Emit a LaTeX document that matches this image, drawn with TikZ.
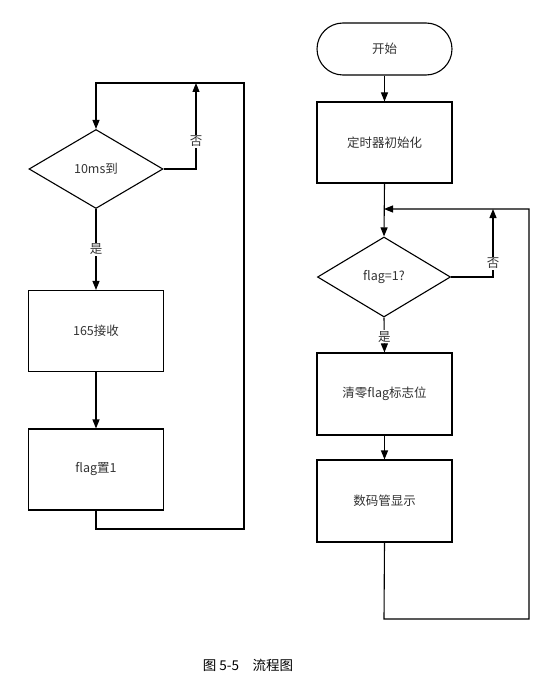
\documentclass[tikz,border=0pt]{standalone}
\usepackage{fontspec}
\newfontfamily\cjk{Noto Sans CJK SC}
\usepackage{tikz}
\usetikzlibrary{arrows.meta,positioning,shapes.geometric}

\begin{document}
\begin{tikzpicture}[x=1pt, y=-1pt,
  txt/.style={font=\cjk\fontsize{12.5}{14}\selectfont, text=black!80},
  procbox/.style={draw, txt, minimum width=135pt, minimum height=81pt, inner sep=0pt},
  decide/.style={draw, diamond, txt, minimum width=134pt, minimum height=79pt, inner sep=0pt},
  term/.style={draw, txt, rounded corners=26pt, minimum width=135pt, minimum height=52pt, inner sep=0pt},
  arr/.style={-{Triangle[length=9pt,width=7pt]}},
  flow/.style={line width=1.1pt},
  yn/.style={txt, fill=white, inner sep=1pt},
  every node/.append style={line width=1.1pt},
]
\useasboundingbox (0,0) rectangle (555,698);
% left: timer interrupt
\node[decide] (tick) at (96,169) {10ms到};
\node[procbox] (recv) at (96,331) {165接收};
\node[procbox] (setflag) at (96,469.5) {flag置1};
\coordinate (ltop) at (96,83);
\coordinate (lright) at (244,83);
\coordinate (lbot) at (96,529);
\coordinate (lno) at (196,83);
\draw[flow, arr] (tick.south) -- node[yn]{是} (recv.north);
\draw[flow, arr] (recv.south) -- (setflag.north);
\draw[flow, arr] (tick.east) -| node[yn, pos=0.66]{否} (lno);
\draw[flow, arr] (setflag.south) -- (lbot) -| (lright) -- (ltop) -- (tick.north);
% right: main loop
\node[term] (start) at (384.5,49) {开始};
\node[procbox] (init) at (384.5,142.5) {定时器初始化};
\node[decide, minimum width=133pt, minimum height=80pt] (chk) at (384,277) {flag=1?};
\node[procbox, minimum height=82pt] (clear) at (384.5,394) {清零flag标志位};
\node[procbox, minimum height=82pt] (disp) at (384.5,501) {数码管显示};
\coordinate (rjoin) at (384,209);
\coordinate (rright) at (529,209);
\coordinate (rbot) at (384,619);
\coordinate (rno) at (493,209);
\draw[flow, arr] (start.south) -- (init.north);
\draw[flow, arr] (init.south) -- (chk.north);
\draw[flow, arr] (chk.south) -- node[yn, pos=0.55]{是} (clear.north);
\draw[flow, arr] (clear.south) -- (disp.north);
\draw[flow, arr] (chk.east) -| node[yn, pos=0.6]{否} (rno);
\draw[flow, arr] (disp.south) -- (rbot) -| (rright) -- (rjoin);
% caption
\node[txt, text=black, font=\cjk\fontsize{13.5}{15}\selectfont] (cap) at (248,665) {图 5-5\quad 流程图};
\end{tikzpicture}
\end{document}
